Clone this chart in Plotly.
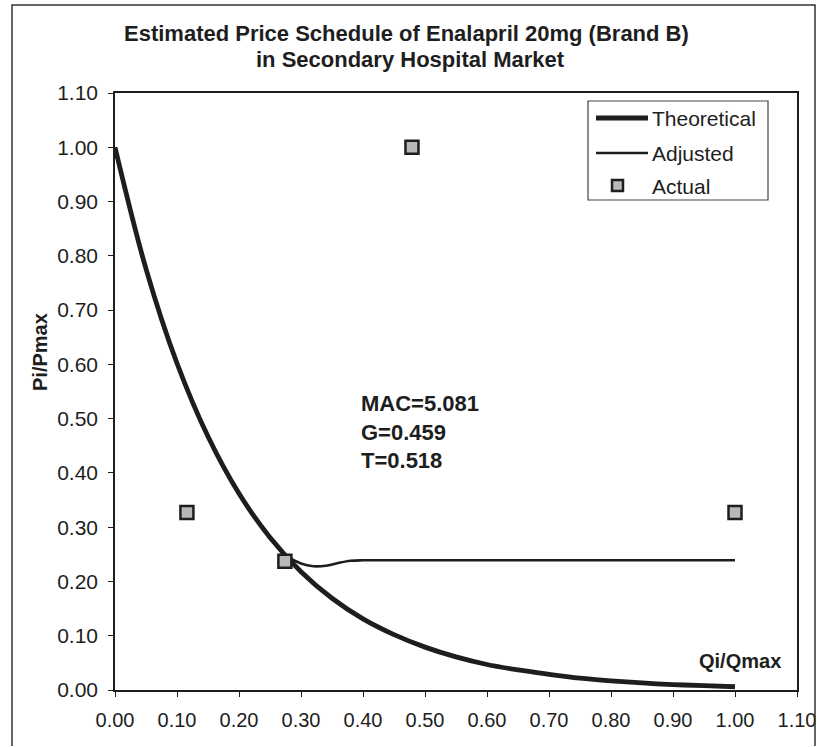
import plotly.graph_objects as go

# Quantity share (Qi/Qmax) and relative price (Pi/Pmax)
theo_q = [0.00, 0.05, 0.10, 0.15, 0.20, 0.25, 0.30, 0.35, 0.40, 0.45, 0.50,
          0.55, 0.60, 0.65, 0.70, 0.75, 0.80, 0.85, 0.90, 0.95, 1.00]
theo_p = [1.000, 0.776, 0.602, 0.467, 0.362, 0.281, 0.218, 0.169, 0.131, 0.102, 0.079,
          0.061, 0.047, 0.037, 0.029, 0.022, 0.017, 0.013, 0.010, 0.008, 0.006]

adj_q = [0.00, 0.05, 0.10, 0.15, 0.20, 0.25, 0.28, 0.30, 0.32, 0.34, 0.36,
         0.38, 0.40, 0.50, 0.60, 0.70, 0.80, 0.90, 1.00]
adj_p = [1.000, 0.776, 0.602, 0.467, 0.362, 0.281, 0.245, 0.233, 0.228, 0.229, 0.234,
         0.238, 0.239, 0.239, 0.239, 0.239, 0.239, 0.239, 0.239]

act_q = [0.116, 0.274, 0.479, 1.000]
act_p = [0.327, 0.237, 1.000, 0.327]

x_ticks = [i / 10 for i in range(12)]
y_ticks = [i / 10 for i in range(12)]
tick_text = [f"{v:.2f}" for v in x_ticks]

series_names = ["Theoretical", "Adjusted", "Actual"]

FONT = "Liberation Sans, Arial, sans-serif"
INK = "#1e1e1e"
MARKER_FILL = "#b8b8b8"

W, H = 817, 747
L, R, T, B = 115, 20, 93, 57
PW, PH = W - L - R, H - T - B


def px(xp):
    """Pixel column -> paper x."""
    return (xp - L) / PW


def py(yp):
    """Pixel row -> paper y."""
    return (H - B - yp) / PH


def label(text, x, y, size, xanchor="center", **kw):
    fig.add_annotation(text=text, xref="paper", yref="paper", x=px(x), y=py(y),
                       xanchor=xanchor, yanchor="middle", showarrow=False,
                       font=dict(family=FONT, size=size, color=INK), **kw)


fig = go.Figure()
fig.add_trace(go.Scatter(x=theo_q, y=theo_p, mode="lines", name=series_names[0],
                         line=dict(color=INK, width=4.8, shape="spline")))
fig.add_trace(go.Scatter(x=adj_q, y=adj_p, mode="lines", name=series_names[1],
                         line=dict(color=INK, width=2.6, shape="spline")))
fig.add_trace(go.Scatter(x=act_q, y=act_p, mode="markers", name=series_names[2],
                         marker=dict(symbol="square", size=13, color=MARKER_FILL,
                                     line=dict(color=INK, width=2.5))))

axis_common = dict(
    showgrid=False, zeroline=False, showline=True, linecolor=INK, linewidth=1.5,
    mirror=True, ticks="outside", ticklen=5, tickcolor=INK, tickwidth=1.2,
    automargin=False,
)
fig.update_xaxes(range=[0, 1.1], tickvals=x_ticks, ticktext=tick_text,
                 ticklabelstandoff=6, tickfont=dict(family=FONT, size=20, color=INK),
                 **axis_common)
fig.update_yaxes(range=[0, 1.1], tickvals=y_ticks, ticktext=tick_text,
                 ticklabelstandoff=6, tickfont=dict(family=FONT, size=21, color=INK),
                 **axis_common)

fig.update_layout(
    width=W, height=H,
    margin=dict(l=L, r=R, t=T, b=B, autoexpand=False),
    paper_bgcolor="white", plot_bgcolor="white",
    showlegend=False,
    font=dict(family=FONT, color=INK),
)

# Two-line title
label("<b>Estimated Price Schedule of Enalapril 20mg (Brand B)</b>", 406, 33, 22)
label("<b>in Secondary Hospital Market</b>", 410, 59, 22)

# Axis titles and parameter box
label("<b>Pi/Pmax</b>", 40, 352, 20, textangle=-90)
label("<b>Qi/Qmax</b>", 740, 661, 20)
label("<b>MAC=5.081<br>G=0.459<br>T=0.518</b>", 359, 432, 22, xanchor="left", align="left")

# Legend box with line and marker keys
fig.add_shape(type="rect", xref="paper", yref="paper",
              x0=px(588), x1=px(768), y0=py(200), y1=py(101),
              line=dict(color="#444", width=1.2), fillcolor="white")
key_rows = [118, 153, 186]
fig.add_shape(type="line", xref="paper", yref="paper",
              x0=px(596), x1=px(648), y0=py(key_rows[0]), y1=py(key_rows[0]),
              line=dict(color=INK, width=4.8))
fig.add_shape(type="line", xref="paper", yref="paper",
              x0=px(596), x1=px(648), y0=py(key_rows[1]), y1=py(key_rows[1]),
              line=dict(color=INK, width=2.6))
fig.add_shape(type="rect", xref="paper", yref="paper",
              x0=px(612), x1=px(623), y0=py(191), y1=py(180),
              line=dict(color=INK, width=2.5), fillcolor=MARKER_FILL)
for name, row in zip(series_names, key_rows):
    label(name, 650, row, 21, xanchor="left")

# Outer frame around the chart (left, top and right edges)
fig.add_shape(type="path", xref="paper", yref="paper",
              path=(f"M {px(12)},{py(746)} L {px(12)},{py(5)} "
                    f"L {px(815)},{py(5)} L {px(815)},{py(746)}"),
              line=dict(color="#333", width=1.5))

fig.write_html("out.html")
